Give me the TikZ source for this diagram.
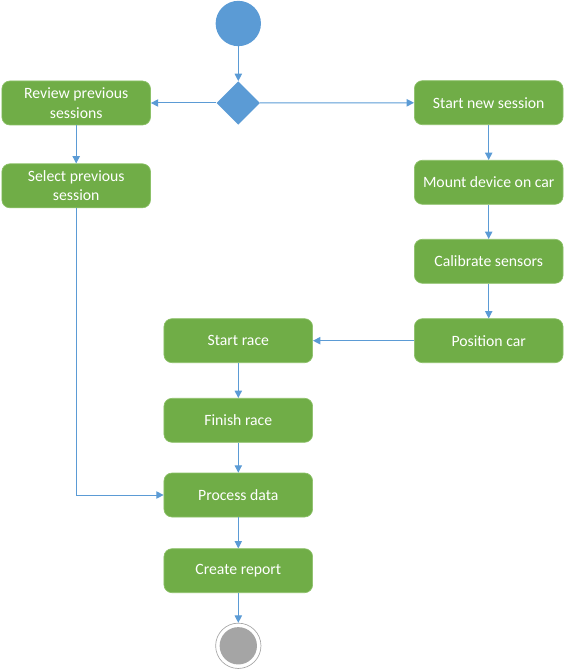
\documentclass[tikz,border=0pt]{standalone}
\usepackage{fontspec}
\setmainfont{Carlito}
\usetikzlibrary{arrows.meta,shapes.geometric}
\definecolor{actgreen}{HTML}{70AD47}
\definecolor{actborder}{HTML}{8CC168}
\definecolor{flowblue}{HTML}{5B9BD5}
\definecolor{endgray}{HTML}{A5A5A5}
\tikzset{
  act/.style={draw=actborder, line width=0.5pt, fill=actgreen, rounded corners=6pt,
    minimum width=111.5pt, minimum height=33pt, text=white, font=\fontsize{11.8}{14.5}\selectfont,
    align=center, inner sep=1pt},
  flow/.style={draw=flowblue, line width=0.75pt, -{Triangle[length=5.5pt,width=5.5pt]}},
}
\begin{document}
\begin{tikzpicture}[x=0.75pt,y=-0.75pt]
\useasboundingbox (0,0) rectangle (565,670);
\node[circle, fill=flowblue, minimum size=34pt, inner sep=0pt] (start) at (238.3,23.5) {};
\node[diamond, fill=flowblue, minimum width=32.5pt, minimum height=32.5pt, inner sep=0pt] (dec) at (238.3,103) {};
\node[act] (review) at (76.2,103) {Review previous\\sessions};
\node[act] (select) at (76.2,185.8) {Select previous\\session};
\node[act] (newsess) at (488.7,102.7) {Start new session};
\node[act] (mount) at (488.7,182.3) {Mount device on car};
\node[act] (calib) at (488.7,261.3) {Calibrate sensors};
\node[act] (pos) at (488.7,340.7) {Position car};
\node[act] (srace) at (238.3,340.7) {Start race};
\node[act] (frace) at (238.3,420.3) {Finish race};
\node[act] (proc) at (238.3,495) {Process data};
\node[act] (report) at (238.3,570.7) {Create report};
\node[circle, draw=endgray, line width=0.5pt, fill=white, minimum size=34pt, inner sep=0pt] (endo) at (238.3,645.8) {};
\node[circle, fill=endgray, minimum size=28pt, inner sep=0pt] (endi) at (238.3,645.8) {};
\draw[flow] (start) -- (dec);
\draw[flow] (dec) -- (review);
\draw[flow] (dec) -- (newsess);
\draw[flow] (review) -- (select);
\draw[flow] (newsess) -- (mount);
\draw[flow] (mount) -- (calib);
\draw[flow] (calib) -- (pos);
\draw[flow] (pos) -- (srace);
\draw[flow] (srace) -- (frace);
\draw[flow] (frace) -- (proc);
\draw[flow] (select) |- (proc);
\draw[flow] (proc) -- (report);
\draw[flow] (report) -- (endo);
\end{tikzpicture}
\end{document}
